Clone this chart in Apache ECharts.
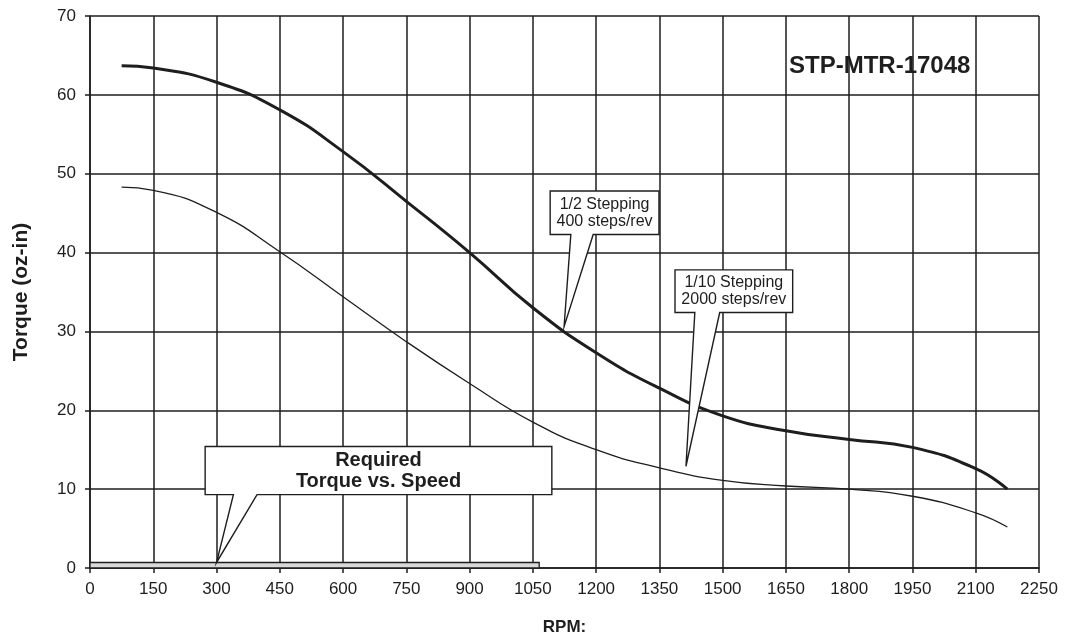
<!DOCTYPE html>
<html>
<head>
<meta charset="utf-8">
<script src="https://cdn.jsdelivr.net/npm/echarts@6/dist/echarts.min.js"></script>
<style>html,body{margin:0;padding:0;background:#fff}#c{width:1069px;height:640px}</style>
</head>
<body>
<div id="c"></div>
<script>
// ---- data ----
const rpm = [75, 150, 300, 450, 600, 750, 900, 1050, 1200, 1350, 1500, 1650, 1800, 1950, 2100, 2175];
const halfStepTorque  = [63.7, 63.4, 61.6, 58.1, 52.8, 46.5, 40.0, 33.0, 27.3, 22.8, 19.3, 17.4, 16.3, 15.3, 12.6, 10.0];
const tenthStepTorque = [48.3, 47.9, 45.1, 40.1, 34.4, 28.7, 23.4, 18.5, 15.0, 12.7, 11.1, 10.4, 10.0, 9.1, 7.0, 5.2];
const requiredRpmRange = [0, 1065];
const requiredTorque = 0.7;
const calloutTexts = ['1/2 Stepping\n400 steps/rev', '1/10 Stepping\n2000 steps/rev', 'Required\nTorque vs. Speed'];
const chartTitle = 'STP-MTR-17048';

// ---- annotation placement (data units) ----
const calloutGeom = [
  {box: [1091, 47.8, 1349, 42.3], base: [1140, 1193], tip: [1124, 30.6], bold: false},
  {box: [1387, 37.8, 1666, 32.4], base: [1434, 1493], tip: [1413, 12.9], bold: false},
  {box: [273, 15.4, 1095, 9.3],   base: [340, 396],   tip: [300, requiredTorque], bold: true}
];

const ink = '#1e1e1e';
const font = '"Liberation Sans", Arial, Helvetica, sans-serif';

const pairs = (ys) => rpm.map((x, i) => [x, ys[i]]);

const chart = echarts.init(document.getElementById('c'), null, {renderer: 'canvas'});
chart.setOption({
  animation: false,
  backgroundColor: '#fff',
  title: {
    text: chartTitle, left: 784, top: 49,
    textStyle: {fontFamily: font, fontSize: 24, fontWeight: 'bold', color: ink}
  },
  grid: {left: 90, right: 30, top: 16, bottom: 72, containLabel: false, outerBoundsMode: 'none'},
  xAxis: {
    type: 'value', min: 0, max: 2250, interval: 150,
    name: 'RPM:', nameLocation: 'middle', nameGap: 51,
    nameTextStyle: {fontFamily: font, fontSize: 17, fontWeight: 'bold', color: ink},
    axisLine: {show: true, onZero: false, lineStyle: {color: ink, width: 1.5}},
    axisTick: {show: true, length: 5, lineStyle: {color: ink, width: 1.5}},
    axisLabel: {fontFamily: font, fontSize: 17, color: ink, margin: 13, formatter: (v) => String(v)},
    splitLine: {show: true, lineStyle: {color: ink, width: 1.5}}
  },
  yAxis: {
    type: 'value', min: 0, max: 70, interval: 10,
    name: 'Torque (oz-in)', nameLocation: 'middle', nameGap: 58,
    nameTextStyle: {fontFamily: font, fontSize: 21, fontWeight: 'bold', color: ink},
    axisLine: {show: true, lineStyle: {color: ink, width: 1.5}},
    axisTick: {show: true, length: 5, lineStyle: {color: ink, width: 1.5}},
    axisLabel: {fontFamily: font, fontSize: 17, color: ink, margin: 14, formatter: (v) => String(v)},
    splitLine: {show: true, lineStyle: {color: ink, width: 1.5}}
  },
  series: [
    {
      type: 'custom', name: 'required', z: 3,
      data: [[requiredRpmRange[0], requiredRpmRange[1], requiredTorque]],
      renderItem: (params, api) => {
        const p0 = api.coord([api.value(0), 0]);
        const p1 = api.coord([api.value(1), api.value(2)]);
        return {
          type: 'rect',
          shape: {x: p0[0], y: p1[1], width: p1[0] - p0[0], height: p0[1] - p1[1]},
          style: {fill: '#d9d9d9', stroke: ink, lineWidth: 1.3}
        };
      }
    },
    {
      type: 'line', name: '1/10 Stepping', data: pairs(tenthStepTorque),
      smooth: 0.5, symbol: 'none', z: 4,
      lineStyle: {color: ink, width: 1.3}
    },
    {
      type: 'line', name: '1/2 Stepping', data: pairs(halfStepTorque),
      smooth: 0.5, symbol: 'none', z: 4,
      lineStyle: {color: ink, width: 3}
    },
    {
      type: 'custom', name: 'callouts', z: 6, clip: false,
      data: calloutGeom.map((g, i) => [g.tip[0], g.tip[1], i]),
      renderItem: (params, api) => {
        const g = calloutGeom[params.dataIndex];
        const tl = api.coord([g.box[0], g.box[1]]);
        const br = api.coord([g.box[2], g.box[3]]);
        const bl = api.coord([g.base[0], g.box[3]]);
        const brr = api.coord([g.base[1], g.box[3]]);
        const tip = api.coord([api.value(0), api.value(1)]);
        const pts = [
          [tl[0], tl[1]], [br[0], tl[1]], [br[0], br[1]],
          [brr[0], br[1]], [tip[0], tip[1]], [bl[0], br[1]], [tl[0], br[1]]
        ];
        return {
          type: 'group',
          children: [
            {type: 'polygon', shape: {points: pts},
             style: {fill: '#fff', stroke: ink, lineWidth: 1.4, lineJoin: 'miter'}},
            {type: 'text',
             style: {
               x: (tl[0] + br[0]) / 2, y: (tl[1] + br[1]) / 2,
               text: calloutTexts[params.dataIndex],
               align: 'center', verticalAlign: 'middle',
               fontFamily: font, fontSize: g.bold ? 20 : 16,
               fontWeight: g.bold ? 'bold' : 'normal',
               lineHeight: g.bold ? 21 : 17, fill: ink
             }}
          ]
        };
      }
    }
  ]
});
</script>
</body>
</html>
